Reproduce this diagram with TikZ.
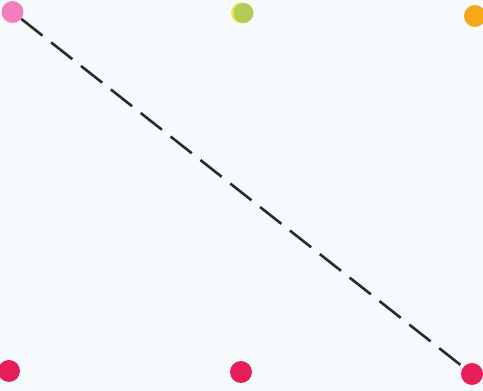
\documentclass[tikz,border=0pt]{standalone}
\definecolor{bgc}{HTML}{F6FAFD}
\definecolor{dotpink}{HTML}{F27EBF}
\definecolor{dotgreen}{HTML}{B3CB57}
\definecolor{dothalo}{HTML}{F2E64A}
\definecolor{dotorange}{HTML}{F5A81C}
\definecolor{dotred}{HTML}{E81E5A}
\definecolor{linec}{HTML}{2A2A2A}
\begin{document}
\begin{tikzpicture}[x=1pt,y=1pt,
  dot/.style={circle,inner sep=0pt,minimum size=22pt,draw=none},
  conn/.style={draw=linec,line width=2.6pt,dash pattern=on 27pt off 11pt}]
\fill[bgc] (0,0) rectangle (483,391);
\useasboundingbox (0,0) rectangle (483,391);
\fill[dothalo] (241.5,378) circle (10.5pt);
\node[dot,fill=dotpink]   (tl) at (12.5,379) {};
\node[dot,fill=dotgreen,minimum size=20pt]  (tm) at (243.5,378) {};
\node[dot,fill=dotorange] (tr) at (475,375) {};
\node[dot,fill=dotred]    (bl) at (9,20) {};
\node[dot,fill=dotred]    (bm) at (241,19) {};
\node[dot,fill=dotred]    (br) at (472,17) {};
\draw[conn] (tl) -- (br);
\end{tikzpicture}
\end{document}
